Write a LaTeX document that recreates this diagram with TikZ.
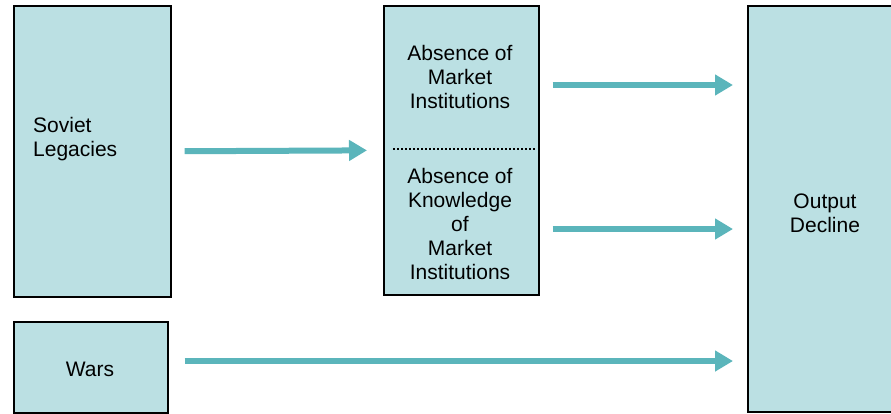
\documentclass[tikz,border=0pt]{standalone}
\usepackage{fontspec}
\setmainfont{Liberation Sans}
\usetikzlibrary{arrows.meta}
\definecolor{boxfill}{HTML}{BBE0E3}
\definecolor{arrowc}{HTML}{5BB5BB}
\begin{document}
\begin{tikzpicture}[x=1pt,y=-1pt,
  box/.style={draw=black,line width=1.6pt,fill=boxfill,rectangle,inner sep=0pt},
  lbl/.style={font=\fontsize{21}{24}\selectfont,align=center,inner sep=0pt},
  arr/.style={draw=arrowc,line width=6pt,-{Triangle[length=18pt,width=20pt]}}]
\useasboundingbox (0,0) rectangle (891,413);
\node[box,minimum width=157pt,minimum height=291pt,anchor=north west] (sov) at (13,5) {};
\node[box,minimum width=154pt,minimum height=91pt,anchor=north west] (wars) at (13,321) {};
\node[box,minimum width=155pt,minimum height=289pt,anchor=north west] (mid) at (383,5) {};
\node[box,minimum width=160pt,minimum height=406pt,anchor=north west] (out) at (747,5) {};
\node[lbl,align=left,anchor=west] (sovt) at (33,139) {Soviet\\Legacies};
\node[lbl] (warst) at (90,369) {Wars};
\node[lbl] (midt1) at (460,77) {Absence of\\Market\\Institutions};
\node[lbl] (midt2) at (460,224) {Absence of\\Knowledge\\of\\Market\\Institutions};
\node[lbl] (outt) at (825,213) {Output\\Decline};
\coordinate (dl) at (393,149);
\coordinate (dr) at (535,149);
\draw[line width=2pt,dotted] (dl) -- (dr);
\coordinate (ya) at (0,85);
\coordinate (yb) at (0,229);
\coordinate (yw) at (0,361);
\draw[arr,shorten <=13pt,shorten >=16pt] (sov.east) -- (mid.west);
\draw[arr,shorten <=13pt,shorten >=14pt] (mid.east |- ya) -- (out.west |- ya);
\draw[arr,shorten <=13pt,shorten >=14pt] (mid.east |- yb) -- (out.west |- yb);
\draw[arr,shorten <=16pt,shorten >=14pt] (wars.east |- yw) -- (out.west |- yw);
\end{tikzpicture}
\end{document}
